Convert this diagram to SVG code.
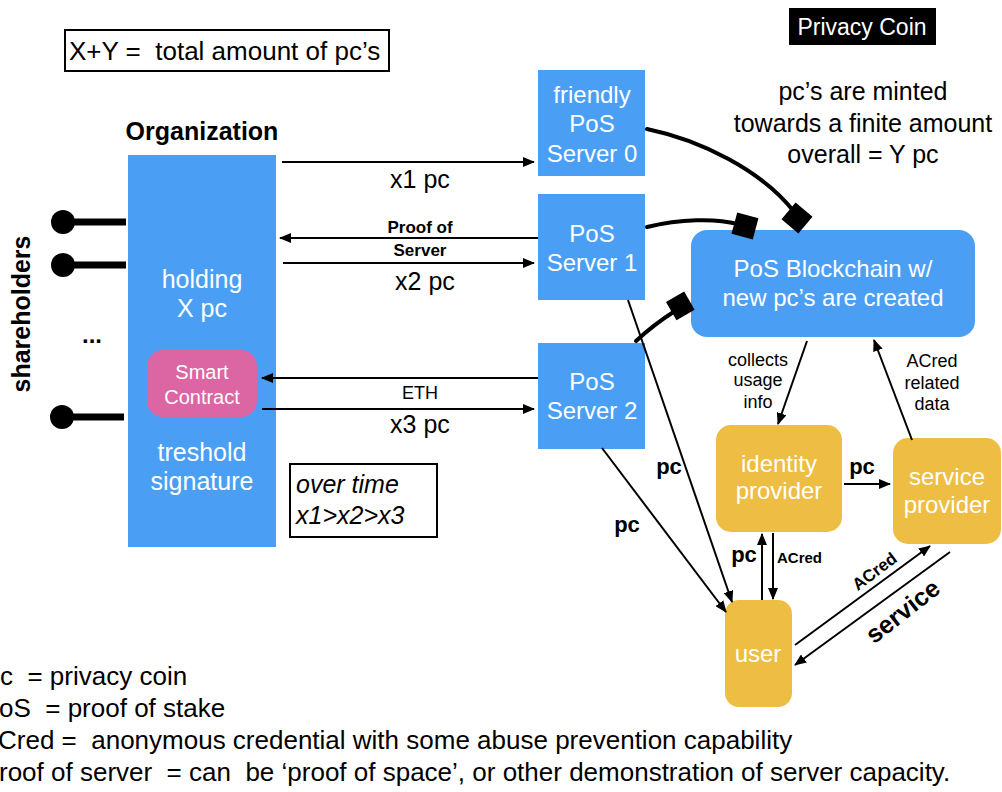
<svg xmlns="http://www.w3.org/2000/svg" width="1002" height="792" viewBox="0 0 1002 792">
<defs>
<style>
text{font-family:"Liberation Sans",Arial,sans-serif;fill:#000}
.w{fill:#fff}
.b{font-weight:bold}
.mid{text-anchor:middle}
.f24{font-size:24px}
.leg{font-size:26px}
.blue{fill:#4a9ff5}
.yel{fill:#eebd44}
.ln{stroke:#000;stroke-width:2;fill:none}
.hand{stroke:#000;stroke-width:4;fill:none;stroke-linecap:round}
</style>
<marker id="ah" markerUnits="userSpaceOnUse" markerWidth="12" markerHeight="10" refX="11" refY="5" orient="auto">
<path d="M0,0 L12,5 L0,10 z" fill="#000"/>
</marker>
</defs>
<rect width="1002" height="792" fill="#fff"/>

<g id="total-note">
<rect x="65" y="30" width="324" height="41" fill="none" stroke="#000" stroke-width="2"/>
<text x="69" y="60" font-size="26" xml:space="preserve">X+Y =  total amount of pc’s</text>
</g>

<g id="privacy-coin">
<rect x="789" y="8" width="147" height="37" fill="#000"/>
<text x="862" y="35" class="w mid" font-size="23">Privacy Coin</text>
</g>

<g id="minted-note">
<text x="863" y="100" class="mid" font-size="25">pc’s are minted</text>
<text x="863" y="132" class="mid" font-size="25">towards a finite amount</text>
<text x="863" y="163" class="mid" font-size="25">overall = Y pc</text>
</g>

<g id="organization">
<text x="202" y="140" class="b mid" font-size="25">Organization</text>
<rect x="128" y="155" width="148" height="392" class="blue"/>
<text x="202" y="288" class="w mid" font-size="25">holding</text>
<text x="202" y="317" class="w mid" font-size="25">X pc</text>
<text x="202" y="461" class="w mid" font-size="25">treshold</text>
<text x="202" y="490" class="w mid" font-size="25">signature</text>
</g>

<g id="smart-contract">
<rect x="147" y="350" width="110" height="67" rx="16" fill="#dc66a3"/>
<text x="202" y="379" class="w mid" font-size="20">Smart</text>
<text x="202" y="404" class="w mid" font-size="20">Contract</text>
</g>

<g id="shareholders">
<text transform="translate(30,314) rotate(-90)" class="b mid" font-size="25">shareholders</text>
<g stroke="#000" stroke-width="7">
<line x1="63" y1="222" x2="126" y2="222"/>
<line x1="63" y1="265" x2="126" y2="265"/>
<line x1="62" y1="417" x2="124" y2="417"/>
</g>
<circle cx="63" cy="222" r="12"/>
<circle cx="63" cy="265" r="12"/>
<circle cx="62" cy="417" r="12"/>
<text x="92" y="343" class="b mid" font-size="24">...</text>
</g>

<g id="over-time">
<rect x="290" y="464" width="147" height="73" fill="none" stroke="#000" stroke-width="2"/>
<text x="296" y="493" font-style="italic" font-size="25">over time</text>
<text x="296" y="524" font-style="italic" font-size="25">x1&gt;x2&gt;x3</text>
</g>

<g id="server0">
<rect x="538" y="70" width="107" height="106" class="blue"/>
<text x="592" y="103" class="w mid f24">friendly</text>
<text x="592" y="132" class="w mid f24">PoS</text>
<text x="592" y="162" class="w mid f24">Server 0</text>
</g>
<g id="server1">
<rect x="538" y="194" width="107" height="106" class="blue"/>
<text x="592" y="242" class="w mid f24">PoS</text>
<text x="592" y="271" class="w mid f24">Server 1</text>
</g>
<g id="server2">
<rect x="538" y="343" width="107" height="106" class="blue"/>
<text x="592" y="390" class="w mid f24">PoS</text>
<text x="592" y="419" class="w mid f24">Server 2</text>
</g>

<g id="blockchain">
<rect x="691" y="230" width="284" height="107" rx="16" class="blue"/>
<text x="833" y="277" class="w mid f24">PoS Blockchain w/</text>
<text x="833" y="306" class="w mid f24">new pc’s are created</text>
</g>

<g id="identity-provider">
<rect x="716" y="425" width="126" height="107" rx="15" class="yel"/>
<text x="779" y="472" class="w mid f24">identity</text>
<text x="779" y="499" class="w mid f24">provider</text>
</g>
<g id="service-provider">
<rect x="893" y="438" width="108" height="106" rx="15" class="yel"/>
<text x="947" y="485" class="w mid f24">service</text>
<text x="947" y="513" class="w mid f24">provider</text>
</g>
<g id="user">
<rect x="725" y="600" width="67" height="107" rx="14" class="yel"/>
<text x="758" y="662" class="w mid f24">user</text>
</g>

<g id="connectors">
<line x1="282" y1="162" x2="534" y2="162" class="ln" marker-end="url(#ah)"/>
<text x="420" y="188" class="mid" font-size="25">x1 pc</text>
<line x1="538" y1="238" x2="280" y2="238" class="ln" marker-end="url(#ah)"/>
<text x="420" y="233" class="b mid" font-size="17">Proof of</text>
<text x="420" y="256" class="b mid" font-size="17">Server</text>
<line x1="283" y1="263" x2="534" y2="263" class="ln" marker-end="url(#ah)"/>
<text x="425" y="290" class="mid" font-size="25">x2 pc</text>
<line x1="538" y1="378" x2="262" y2="378" class="ln" marker-end="url(#ah)"/>
<text x="420" y="399" class="mid" font-size="18">ETH</text>
<line x1="262" y1="409" x2="534" y2="409" class="ln" marker-end="url(#ah)"/>
<text x="420" y="433" class="mid" font-size="25">x3 pc</text>

<path d="M647,129 C700,140 762,170 795,213" class="hand"/>
<rect x="786" y="207" width="22" height="22" transform="rotate(40 797 218)"/>
<path d="M647,227 C680,219 715,218 738,224" class="hand"/>
<rect x="734" y="215" width="22" height="22" transform="rotate(15 745 226)"/>
<path d="M636,341 C650,328 664,318 675,311" class="hand"/>
<rect x="670" y="295" width="21" height="21" transform="rotate(-30 681 306)"/>

<line x1="807" y1="341" x2="778" y2="424" class="ln" marker-end="url(#ah)"/>
<text x="758" y="366" class="mid" font-size="18">collects</text>
<text x="758" y="386" class="mid" font-size="18">usage</text>
<text x="758" y="408" class="mid" font-size="18">info</text>
<line x1="912" y1="440" x2="874" y2="340" class="ln" marker-end="url(#ah)"/>
<text x="932" y="367" class="mid" font-size="18">ACred</text>
<text x="932" y="389" class="mid" font-size="18">related</text>
<text x="932" y="410" class="mid" font-size="18">data</text>

<line x1="844" y1="484" x2="890" y2="484" class="ln" marker-end="url(#ah)"/>
<text x="862" y="474" class="b mid" font-size="22">pc</text>

<line x1="628" y1="300" x2="732" y2="602" class="ln" marker-end="url(#ah)"/>
<text x="669" y="474" class="b mid" font-size="22">pc</text>
<line x1="602" y1="448" x2="726" y2="612" class="ln" marker-end="url(#ah)"/>
<text x="627" y="532" class="b mid" font-size="22">pc</text>

<line x1="762" y1="600" x2="762" y2="534" class="ln" marker-end="url(#ah)"/>
<text x="744" y="562" class="b mid" font-size="22">pc</text>
<line x1="773" y1="533" x2="773" y2="599" class="ln" marker-end="url(#ah)"/>
<text x="777" y="563" class="b" font-size="15">ACred</text>

<line x1="795" y1="645" x2="930" y2="546" class="ln" marker-end="url(#ah)"/>
<text transform="translate(878,576) rotate(-37)" class="b mid" font-size="17">ACred</text>
<line x1="950" y1="552" x2="795" y2="665" class="ln" marker-end="url(#ah)"/>
<text transform="translate(908,618) rotate(-38)" class="b mid" font-size="25">service</text>
</g>

<g id="legend">
<text x="0" y="685" class="leg" xml:space="preserve">c  = privacy coin</text>
<text x="-1" y="717" class="leg" xml:space="preserve">oS  = proof of stake</text>
<text x="-2" y="749" class="leg" xml:space="preserve">Cred =  anonymous credential with some abuse prevention capability</text>
<text x="-1" y="781" class="leg" xml:space="preserve">roof of server  = can  be ‘proof of space’, or other demonstration of server capacity.</text>
</g>
</svg>
